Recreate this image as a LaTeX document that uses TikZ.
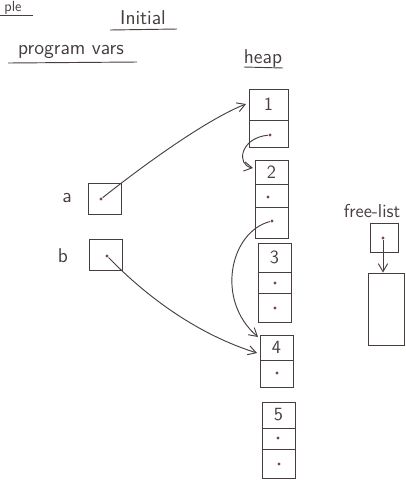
\documentclass[tikz,border=0pt]{standalone}
\usetikzlibrary{fit,arrows.meta}
\definecolor{ink}{RGB}{72,62,62}
\definecolor{dotc}{RGB}{120,70,70}
\begin{document}
\begin{tikzpicture}[x=0.75pt,y=-0.75pt,
  line width=0.7pt, draw=ink, text=ink,
  cellst/.style={draw=ink, inner sep=0pt},
  lbl/.style={font=\sffamily\fontsize{14}{16}\selectfont, text=ink, inner sep=0pt},
  dotst/.style={circle, fill=dotc, inner sep=0pt, minimum size=2.6pt},
  ttl/.style={font=\sffamily\fontsize{15}{17}\selectfont, text=ink, inner sep=0pt},
  ul/.style={draw=ink, line width=0.7pt},
  arr/.style={draw=ink, -{Straight Barb[length=6pt,width=7pt]}}]
\useasboundingbox (0,0) rectangle (405,480);
% titles
\node[ttl, anchor=base west, font=\sffamily\fontsize{11}{13}\selectfont] (ple) at (4,11) {ple};
\draw[ul] (0,15) -- (33,15);
\node[ttl] (init) at (143,18) {Initial};
\draw[ul] (110,30) -- (177,29);
\node[ttl] (pv) at (71,52) {program vars};
\draw[ul] (8,63) -- (137,62);
\node[ttl] (heap) at (263,58) {heap};
\draw[ul] (244,67) -- (283,68);
% program vars
\node[ttl] (la) at (67,198) {a};
\node[cellst, fit={(88,183) (121,214)}] (va) {};
\node[dotst] (da) at (101,199) {};
\node[ttl] (lb) at (63,256) {b};
\node[cellst, fit={(89,239) (122,270)}] (vb) {};
\node[dotst] (db) at (107,256) {};
% heap block 1
\node[cellst, fit={(249,89) (288,120)}] (c1a) {};
\node[lbl] (n1) at (c1a.center) {1};
\node[cellst, fit={(249,120) (288,147)}] (c1b) {};
\node[dotst] (d1b) at (270,135) {};
% block 2
\node[cellst, fit={(255,160) (288,184)}] (c2a) {};
\node[lbl] (n2) at (c2a.center) {2};
\node[cellst, fit={(255,184) (288,207)}] (c2b) {};
\node[cellst, fit={(255,207) (288,238)}] (c2c) {};
\node[dotst] (d2b) at (268,197) {};
\node[dotst] (d2c) at (272,221) {};
% block 3
\node[cellst, fit={(258,243) (291,272)}] (c3a) {};
\node[lbl] (n3) at (c3a.center) {3};
\node[cellst, fit={(258,272) (291,293)}] (c3b) {};
\node[cellst, fit={(258,293) (291,322)}] (c3c) {};
\node[dotst] (d3b) at (275,283) {};
\node[dotst] (d3c) at (275,308) {};
% block 4
\node[cellst, fit={(260,335) (293,360)}] (c4a) {};
\node[lbl] (n4) at (c4a.center) {4};
\node[cellst, fit={(260,360) (293,387)}] (c4b) {};
\node[dotst] (d4b) at (277,373) {};
% block 5
\node[cellst, fit={(262,402) (295,428)}] (c5a) {};
\node[lbl] (n5) at (c5a.center) {5};
\node[cellst, fit={(262,428) (295,449)}] (c5b) {};
\node[cellst, fit={(262,449) (295,478)}] (c5c) {};
\node[dotst] (d5b) at (278,438) {};
\node[dotst] (d5c) at (279,464) {};
% free list
\node[ttl, font=\sffamily\fontsize{14}{16}\selectfont] (fll) at (372,211) {free-list};
\node[cellst, fit={(370,223) (398,252)}] (fl) {};
\node[dotst] (dfl) at (383,238) {};
\node[cellst, fit={(368,273) (404,345)}] (fbig) {};
% connectors
\coordinate (t1) at (246,104);
\coordinate (t2) at (253,168);
\coordinate (t4a) at (258,337);
\coordinate (t4b) at (257,353);
\draw[arr] (da) .. controls (150,160) and (210,118) .. (t1);
\draw[arr] (d1b) .. controls (240,138) and (236,165) .. (t2);
\draw[arr] (d2c) .. controls (230,232) and (215,300) .. (t4a);
\draw[arr] (db) .. controls (150,300) and (200,335) .. (t4b);
\draw[arr] (dfl) -- (fbig.north -| dfl);
\end{tikzpicture}
\end{document}
